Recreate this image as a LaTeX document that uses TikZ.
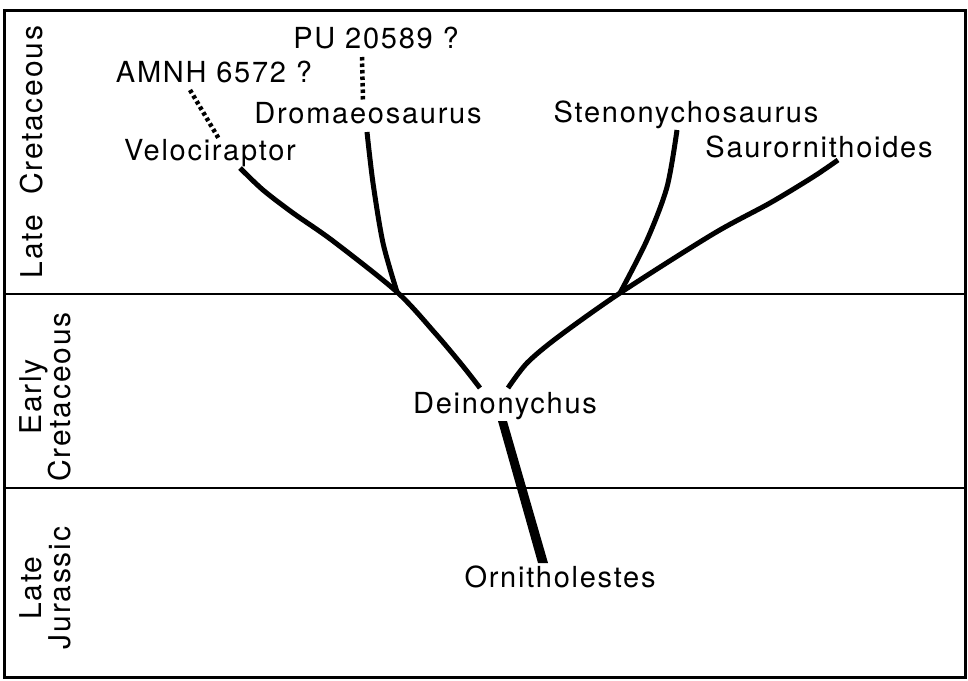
\documentclass[tikz,border=0pt]{standalone}
\usepackage{fontspec}
\setmainfont{TeX Gyre Heros}[LetterSpace=6]
\usetikzlibrary{calc}
\begin{document}
\begin{tikzpicture}[x=1pt,y=-1pt,
  lbl/.style={font=\fontsize{29}{29}\selectfont, inner sep=0pt, anchor=base},
  era/.style={font=\fontsize{30}{29}\selectfont, inner sep=0pt, rotate=90, align=center},
  branch/.style={line width=5pt},
  dotline/.style={line width=4.5pt, dash pattern=on 3.5pt off 3pt},
  rule/.style={line width=2pt},
  frame/.style={line width=3pt}]
\useasboundingbox (0,0) rectangle (968,680);
% frame and period rules
\draw[frame] (4,10) rectangle (965,677);
\coordinate (r1w) at (4,294);  \coordinate (r1e) at (965,294);
\coordinate (r2w) at (4,488);  \coordinate (r2e) at (965,488);
\draw[rule] (r1w) -- (r1e);
\draw[rule] (r2w) -- (r2e);
% era labels
\node[lbl, font=\fontsize{30}{29}\selectfont, rotate=90] (lk) at (42,152) {Late\hspace{20pt}Cretaceous};
\node[era] (ek) at (45,397) {Early\\Cretaceous};
\node[era] (lj) at (45,588) {Late\\Jurassic};
% taxon labels
\node[lbl] (pu)   at (376,48)  {PU 20589 ?};
\node[lbl] (amnh) at (214,82)  {AMNH 6572 ?};
\node[lbl] (drom) at (368,123) {Dromaeosaurus};
\node[lbl] (velo) at (210,160) {Velociraptor};
\node[lbl] (sten) at (686,122) {Stenonychosaurus};
\node[lbl] (saur) at (819,157) {Saurornithoides};
\node[lbl] (dein) at (505,413) {Deinonychus};
\node[lbl] (orni) at (560,587) {Ornitholestes};
% branch points
\coordinate (velotip) at (240,168);
\coordinate (dromtip) at (367,132);
\coordinate (stentip) at (677,130);
\coordinate (saurtip) at (838,160);
\coordinate (J1) at (397,292);
\coordinate (J2) at (620,293);
\coordinate (dL) at (480,388);
\coordinate (dR) at (508,388);
\coordinate (amnhA) at (190,90);
\coordinate (amnhB) at (219,139);
\coordinate (puA) at (362,57);
\coordinate (puB) at (363,101);
% branches
\draw[branch] plot[smooth] coordinates {(velotip) (263,190) (293,213) (333,241) (J1) (435,333) (462,365) (dL)};
\draw[branch] plot[smooth] coordinates {(dromtip) (373,183) (383,243) (J1)};
\draw[branch] plot[smooth] coordinates {(saurtip) (813,177) (770,203) (713,234) (J2) (558,337) (527,363) (dR)};
\draw[branch] plot[smooth] coordinates {(stentip) (667,187) (647,240) (J2)};
% trunk
\coordinate (tt) at (502.5,421);
\coordinate (tb) at (543,563);
\fill ($(tt)+(-4.5,0)$) -- ($(tt)+(4.5,0)$) -- ($(tb)+(5,0)$) -- ($(tb)+(-5,0)$) -- cycle;
% dotted links
\draw[dotline] (amnhA) -- (amnhB);
\draw[dotline] (puA) -- (puB);
\end{tikzpicture}
\end{document}
